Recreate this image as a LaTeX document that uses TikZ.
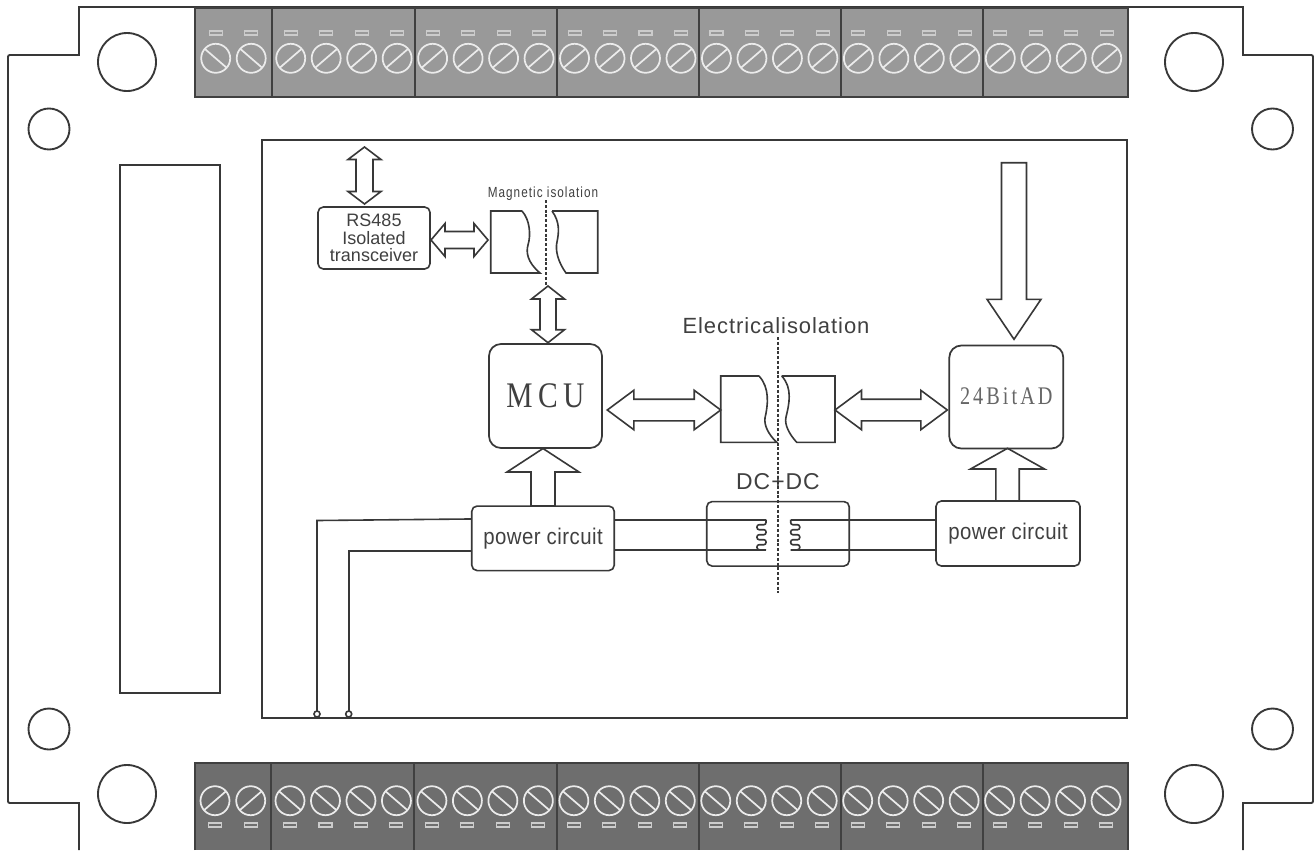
\documentclass[tikz,border=0pt]{standalone}
\usepackage{fontspec}
\usetikzlibrary{calc}
\setmainfont{Liberation Sans}
\newfontfamily\rsFont{Liberation Sans}
\newfontfamily\magFont[LetterSpace=7,FakeStretch=0.8]{Liberation Sans}
\newfontfamily\elecFont[LetterSpace=4.3]{Liberation Sans}
\newfontfamily\pwrFont[FakeStretch=0.9,LetterSpace=2]{Liberation Sans}
\newfontfamily\mcuFont[LetterSpace=15,FakeStretch=0.82]{Liberation Serif}
\newfontfamily\adFont[LetterSpace=12,FakeStretch=0.8]{Liberation Serif}

\definecolor{inkDark}{rgb}{0.22,0.22,0.22}
\definecolor{inkText}{rgb}{0.25,0.25,0.25}
\definecolor{termLight}{rgb}{0.60,0.60,0.60}
\definecolor{termDark}{rgb}{0.43,0.43,0.43}

% one picture unit is one pixel of the sheet
\def\px{0.75pt}

% block arrows, #1 and #2 are the tips, then head length, head half width, shaft half width
\newcommand{\dblArrowH}[5]{%
    \draw[blockArrow] (#1) -- ++(#3,-#4) -- ++(0,#4-#5) -- ($(#2)+(-#3,-#5)$) -- ++(0,#5-#4) -- (#2)
        -- ++(-#3,#4) -- ++(0,#5-#4) -- ($(#1)+(#3,#5)$) -- ++(0,#4-#5) -- cycle;}
\newcommand{\dblArrowV}[5]{%
    \draw[blockArrow] (#1) -- ++(#4,#3) -- ++(#5-#4,0) -- ($(#2)+(#5,-#3)$) -- ++(#4-#5,0) -- (#2)
        -- ++(-#4,-#3) -- ++(#4-#5,0) -- ($(#1)+(-#5,#3)$) -- ++(#5-#4,0) -- cycle;}
% #1 tip, #2 tail, #3 signed head length
\newcommand{\oneArrowV}[5]{%
    \draw[blockArrow] ($(#2)+(-#5,0)$) -- ($(#1)+(-#5,#3)$) -- ++(#5-#4,0) -- (#1)
        -- ++(#4,#3) -- ++(#5-#4,0) -- ($(#2)+(#5,0)$) -- cycle;}

\begin{document}
\begin{tikzpicture}[
        x=0.75pt, y=-0.75pt,
        every node/.style={text=inkText, inner sep=0pt, outer sep=0pt},
        boardLine/.style={inkDark, line width=1.4pt},
        thinLine/.style={inkDark, line width=1.2pt},
        wireLine/.style={inkDark, line width=1.2pt},
        isoDash/.style={inkDark, line width=1.2pt, dash pattern=on 2.2pt off 1.4pt},
        blockArrow/.style={inkDark, line width=1.2pt, line join=miter},
        screwRing/.style={white!92!black, line width=1.3pt},
        tabMark/.style={white!80!black, line width=0.8pt},
        termBorder/.style={black!75, line width=1.6pt},
        bigBox/.style={draw=inkDark, line width=1.3pt, rounded corners=9pt, align=center},
        smallBox/.style={draw=inkDark, line width=1.2pt, rounded corners=4pt, align=center}
    ]
        \useasboundingbox (0,0) rectangle (1316,850);
        \fill[white] (0,0) rectangle (1316,850);

        % Board outline with its four steps
        \draw[boardLine] (79,850) -- (79,803) -- (12,803) .. controls (8,803) .. (8,799) -- (8,59)
            .. controls (8,55) .. (12,55) -- (79,55) -- (79,7) -- (1243,7) -- (1243,55) -- (1309,55)
            .. controls (1313,55) .. (1313,59) -- (1313,799) .. controls (1313,803) .. (1309,803)
            -- (1243,803) -- (1243,850);

        % Mounting holes
        \foreach \hx/\hy in {127/62, 1194/62, 127/794, 1194/794}
            \draw[boardLine] (\hx,\hy) circle (29);
        \foreach \hx/\hy in {49/129, 1272.5/129, 49/729, 1272.5/729}
            \draw[boardLine] (\hx,\hy) circle (20.5);

        % Side slot and inner panel
        \draw[thinLine] (120,165) rectangle (220,693);
        \draw[thinLine] (262,140) rectangle (1127,718);

        % Upper terminal strip
        \fill[termLight] (195,8) rectangle (1128,97);
        \draw[termBorder] (195,8) rectangle (1128,97);
        \foreach \dx in {272,415,557,699,841,983}
            \draw[termBorder] (\dx,8) -- (\dx,97);
        \foreach \sx in {215.7,251.2} {
            \draw[screwRing] (\sx,58.3) circle (14.5);
            \draw[screwRing] (\sx-11,48.8) -- (\sx+11,67.8);
            \draw[tabMark] (\sx-6.5,31) rectangle (\sx+6.5,35);
        }
        \foreach \i in {0,...,23} {
            \pgfmathsetmacro{\sx}{290.7+35.48*\i}
            \draw[screwRing] (\sx,58.3) circle (14.5);
            \draw[screwRing] (\sx-11,67.8) -- (\sx+11,48.8);
            \draw[tabMark] (\sx-6.5,31) rectangle (\sx+6.5,35);
        }

        % Lower terminal strip, runs off the sheet
        \fill[termDark] (195,850) -- (195,763) -- (1128,763) -- (1128,850) -- cycle;
        \draw[termBorder] (195,850) -- (195,763) -- (1128,763) -- (1128,850);
        \foreach \dx in {271,414,557,699,841,983}
            \draw[termBorder] (\dx,763) -- (\dx,850);
        \foreach \sx in {215,250.7} {
            \draw[screwRing] (\sx,800.7) circle (14.5);
            \draw[screwRing] (\sx-11,810.2) -- (\sx+11,791.2);
            \draw[tabMark] (\sx-6.5,823) rectangle (\sx+6.5,827);
        }
        \foreach \i in {0,...,23} {
            \pgfmathsetmacro{\sx}{290+35.48*\i}
            \draw[screwRing] (\sx,800.7) circle (14.5);
            \draw[screwRing] (\sx-11,791.2) -- (\sx+11,810.2);
            \draw[tabMark] (\sx-6.5,823) rectangle (\sx+6.5,827);
        }

        % Main blocks
        \node[smallBox, minimum width=112*\px, minimum height=62*\px, font=\rsFont\fontsize{13.5}{13}\selectfont] (rsBox) at (374,238) {RS485\\Isolated\\transceiver};
        \node[bigBox, minimum width=113*\px, minimum height=104*\px, font=\mcuFont\fontsize{27}{30}\selectfont] (mcuBox) at (545.5,396) {\raisebox{-1.5pt}{MCU}};
        \node[bigBox, minimum width=114*\px, minimum height=103*\px, font=\adFont\fontsize{19}{20}\selectfont, text=black!60] (adBox) at (1006.3,397) {\raisebox{1.5pt}{24BitAD}};
        \node[smallBox, minimum width=142.5*\px, minimum height=64.5*\px, font=\pwrFont\fontsize{17}{20}\selectfont] (pwrLeft) at (543,538.3) {power circuit};
        \node[smallBox, minimum width=144*\px, minimum height=65*\px, font=\pwrFont\fontsize{17}{20}\selectfont] (pwrRight) at (1008,533.5) {power circuit};
        \node[smallBox, minimum width=142.5*\px, minimum height=64.5*\px] (dcBox) at (778,533.8) {};

        % Labels
        \node[font=\magFont\fontsize{11}{12}\selectfont] (magLabel) at (543,193.5) {Magnetic isolation};
        \node[font=\elecFont\fontsize{16.5}{18}\selectfont] (elecLabel) at (776,326) {Electricalisolation};
        \node[font=\elecFont\fontsize{17.2}{18}\selectfont] (dcLabel) at (778,481.7) {DC+DC};

        % Magnetic coupler halves
        \draw[thinLine] (522,211) -- (490.7,211) -- (490.7,273) -- (540,273) .. controls (527,262) and (526,252) .. (528,245)
            .. controls (531,235) and (530,220) .. (522,211);
        \draw[thinLine] (552,211) -- (597.7,211) -- (597.7,273) -- (566,273) .. controls (558,262) and (555,250) .. (557,242)
            .. controls (559,232) and (560,222) .. (552,211);
        \draw[isoDash] (545.7,200) -- (545.7,285);

        % Electrical coupler halves
        \draw[thinLine] (759,376) -- (720.7,376) -- (720.7,442.3) -- (776.7,442.3) .. controls (768,434) and (764,425) .. (765,418)
            .. controls (768,405) and (770,388) .. (759,376);
        \draw[thinLine] (781.7,376) -- (835,376) -- (835,442.3) -- (796.7,442.3) .. controls (790,435) and (784,425) .. (786,417)
            .. controls (789,405) and (793,388) .. (781.7,376);

        % Block arrow ends
        \coordinate (busTop) at (364.5,147);
        \coordinate (busRs) at (364.5,204);
        \coordinate (rsPort) at (431,240);
        \coordinate (magPort) at (488,240);
        \coordinate (magDown) at (548,286);
        \coordinate (mcuUp) at (548,342.7);
        \coordinate (mcuPort) at (607.3,410);
        \coordinate (isoLeft) at (720.7,410);
        \coordinate (isoRight) at (835,410);
        \coordinate (adPort) at (947.3,410);
        \coordinate (sigTop) at (1014,162.7);
        \coordinate (sigTip) at (1014,339.3);
        \coordinate (mcuFoot) at (543,448.5);
        \coordinate (pwrLeftTop) at (543,506);
        \coordinate (adFoot) at (1007.5,448.3);
        \coordinate (pwrRightTop) at (1007.5,501);

        \dblArrowV{busTop}{busRs}{12.5}{16.5}{8.5}
        \dblArrowH{rsPort}{magPort}{14}{16.5}{8.5}
        \dblArrowV{magDown}{mcuUp}{13}{16.5}{8}
        \dblArrowH{mcuPort}{isoLeft}{26.5}{19.7}{10.8}
        \dblArrowH{isoRight}{adPort}{26.5}{19.7}{10.8}
        \oneArrowV{sigTip}{sigTop}{-40}{27}{12.5}
        \oneArrowV{mcuFoot}{pwrLeftTop}{23.5}{36}{12}
        \oneArrowV{adFoot}{pwrRightTop}{20.7}{37}{11.7}

        % Supply wires
        \coordinate (inA) at (317,714);
        \coordinate (inB) at (348.7,714);
        \coordinate (coilLT) at (766,519.7);
        \coordinate (coilLB) at (766,550);
        \coordinate (coilRT) at (790.7,519.7);
        \coordinate (coilRB) at (790.7,550);
        \draw[wireLine] (inA) -- (317,520.5) -- ([yshift=14.5pt]pwrLeft.west);
        \draw[wireLine] (inB) -- (348.7,550.7) -- ([yshift=-9.3pt]pwrLeft.west);
        \draw[wireLine] (pwrLeft.east |- coilLT) -- (coilLT);
        \draw[wireLine] (pwrLeft.east |- coilLB) -- (coilLB);
        \draw[wireLine] (pwrRight.west |- coilRT) -- (coilRT);
        \draw[wireLine] (pwrRight.west |- coilRB) -- (coilRB);
        \draw[wireLine, rounded corners=1.6pt] (coilLT) -- ++(0,5) -- ++(-9,0) -- ++(0,5) -- ++(9,0) -- ++(0,5) -- ++(-9,0) -- ++(0,5) -- ++(9,0) -- ++(0,5) -- ++(-9,0) -- ++(0,5) -- (coilLB);
        \draw[wireLine, rounded corners=1.6pt] (coilRT) -- ++(0,5) -- ++(9,0) -- ++(0,5) -- ++(-9,0) -- ++(0,5) -- ++(9,0) -- ++(0,5) -- ++(-9,0) -- ++(0,5) -- ++(9,0) -- ++(0,5) -- (coilRB);
        \foreach \p in {inA,inB}
            \draw[wireLine, fill=white] (\p) circle (3);

        % Isolation barrier through both couplers
        \draw[isoDash] (778,337) -- (778,593);
    \end{tikzpicture}
\end{document}
